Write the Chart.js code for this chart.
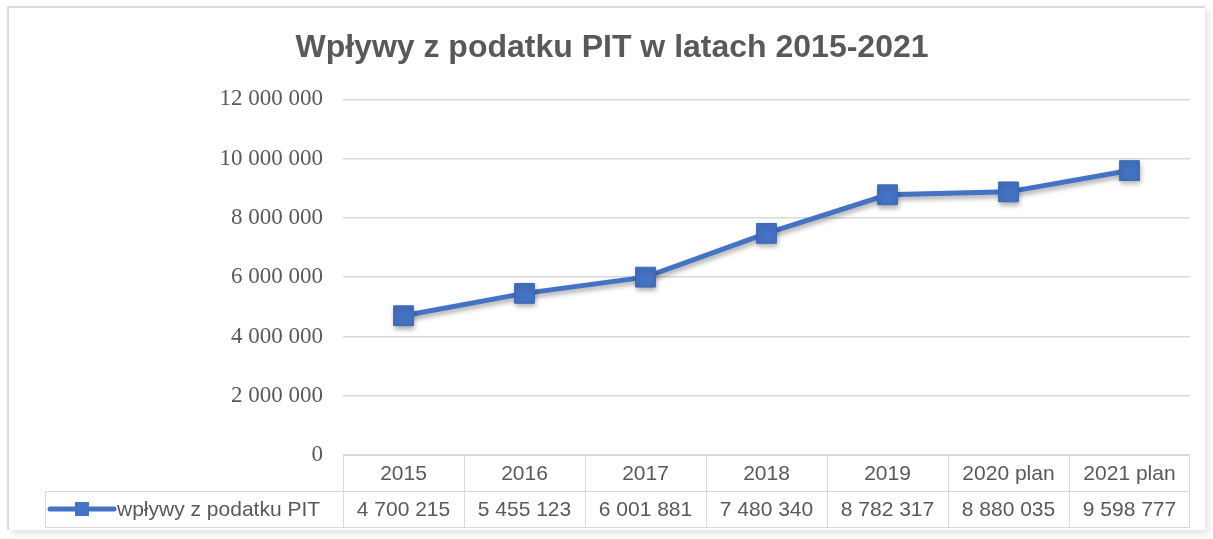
<!DOCTYPE html>
<html>
<head>
<meta charset="utf-8">
<script src="https://cdn.jsdelivr.net/npm/chart.js@4/dist/chart.umd.min.js"></script>
<style>
    html, body { margin: 0; padding: 0; background: #fff; }
    #frame {
        position: absolute; left: 7px; top: 6px; width: 1196px; height: 522px;
        border-left: 2px solid #dcdcdc; border-top: 2px solid #dcdcdc;
        box-shadow: 4px 4px 6px rgba(0,0,0,0.10);
    }
    #wrap { position: absolute; left: 0; top: 0; width: 1213px; height: 539px; }
</style>
</head>
<body>
<div id="frame"></div>
<div id="wrap"><canvas id="pitChart" width="1213" height="539"></canvas></div>
<script>
/* dane wykresu */
const years = ["2015", "2016", "2017", "2018", "2019", "2020 plan", "2021 plan"];
const pitValues = [4700215, 5455123, 6001881, 7480340, 8782317, 8880035, 9598777];
const seriesName = "wpływy z podatku PIT";
const yTicks = [0, 2000000, 4000000, 6000000, 8000000, 10000000, 12000000];

const BLUE = "#4472C4";
const GRID = "#d9d9d9";
const TEXT = "#595959";
const TABLE_FONT = "21px 'Liberation Sans', Arial, sans-serif";

function fmt(n) {
    return String(n).replace(/\B(?=(\d{3})+(?!\d))/g, " ");
}

/* cień pod linią */
const shadowPlugin = {
    id: "lineShadow",
    beforeDatasetDraw(chart) {
        const ctx = chart.ctx;
        ctx.save();
        ctx.shadowColor = "rgba(0,0,0,0.35)";
        ctx.shadowBlur = 5;
        ctx.shadowOffsetX = 1;
        ctx.shadowOffsetY = 3;
    },
    afterDatasetDraw(chart) {
        chart.ctx.restore();
    }
};

/* tabela danych pod osią */
const tablePlugin = {
    id: "dataTable",
    afterDraw(chart) {
        const ctx = chart.ctx;
        const x = chart.scales.x;
        const top = chart.chartArea.bottom;
        const rowH = 36;
        const half = (x.right - x.left) / years.length / 2;
        const legendLeft = 45;

        ctx.save();
        ctx.strokeStyle = GRID;
        ctx.lineWidth = 1;
        ctx.beginPath();
        // linie poziome
        ctx.moveTo(x.left, top + 0.5); ctx.lineTo(x.right, top + 0.5);
        ctx.moveTo(legendLeft, top + rowH + 0.5); ctx.lineTo(x.right, top + rowH + 0.5);
        ctx.moveTo(legendLeft, top + 2 * rowH + 0.5); ctx.lineTo(x.right, top + 2 * rowH + 0.5);
        // linie pionowe
        ctx.moveTo(legendLeft + 0.5, top + rowH); ctx.lineTo(legendLeft + 0.5, top + 2 * rowH);
        years.forEach((y, i) => {
            const l = Math.round(x.getPixelForValue(i) - half) + 0.5;
            ctx.moveTo(l, top); ctx.lineTo(l, top + 2 * rowH);
        });
        ctx.moveTo(Math.round(x.right) - 0.5, top); ctx.lineTo(Math.round(x.right) - 0.5, top + 2 * rowH);
        ctx.stroke();

        ctx.fillStyle = TEXT;
        ctx.font = TABLE_FONT;
        ctx.textAlign = "center";
        ctx.textBaseline = "middle";
        years.forEach((y, i) => {
            const cx = x.getPixelForValue(i);
            ctx.fillText(y, cx, top + rowH / 2 + 1);
            ctx.fillText(fmt(pitValues[i]), cx, top + rowH * 1.5 + 1);
        });

        // klucz legendy
        const ly = top + rowH * 1.5;
        ctx.strokeStyle = BLUE;
        ctx.lineWidth = 5;
        ctx.lineCap = "round";
        ctx.beginPath();
        ctx.moveTo(50, ly); ctx.lineTo(114, ly);
        ctx.stroke();
        ctx.fillStyle = BLUE;
        ctx.fillRect(75, ly - 7, 14, 14);
        ctx.fillStyle = TEXT;
        ctx.textAlign = "left";
        ctx.fillText(seriesName, 117, ly + 1);
        ctx.restore();
    }
};

new Chart(document.getElementById("pitChart"), {
    type: "line",
    data: {
        labels: years,
        datasets: [{
            label: seriesName,
            data: pitValues,
            borderColor: BLUE,
            backgroundColor: BLUE,
            borderWidth: 5,
            pointStyle: "rect",
            pointRadius: 14,
            pointHoverRadius: 14,
            pointBorderColor: "#3b68b8",
            pointBorderWidth: 1,
            tension: 0,
            fill: false
        }]
    },
    options: {
        responsive: false,
        animation: false,
        layout: { padding: { left: 34, right: 23, top: 0, bottom: 84 } },
        plugins: {
            legend: { display: false },
            tooltip: { enabled: false },
            title: {
                display: true,
                text: "Wpływy z podatku PIT w latach 2015-2021",
                color: TEXT,
                font: { family: "'Liberation Sans', Arial, sans-serif", size: 32, weight: "bold" },
                padding: { top: 29, bottom: 32 }
            }
        },
        scales: {
            x: {
                display: false,
                offset: true
            },
            y: {
                min: 0,
                max: 12000000,
                afterFit(s) { s.width = 309; },
                afterBuildTicks(s) { s.ticks = yTicks.map(v => ({ value: v })); },
                border: { display: false },
                grid: { color: GRID, lineWidth: 1.5, drawTicks: false },
                ticks: {
                    padding: 20,
                    color: TEXT,
                    font: { family: "'Liberation Serif', 'Times New Roman', serif", size: 23 },
                    callback: v => fmt(v)
                }
            }
        }
    },
    plugins: [shadowPlugin, tablePlugin]
});
</script>
</body>
</html>
